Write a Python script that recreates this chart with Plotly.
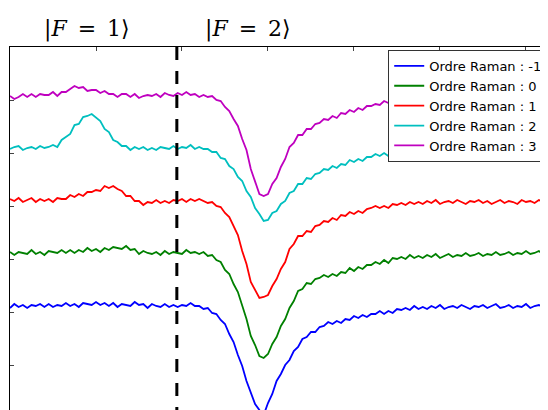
import numpy as np
import plotly.graph_objects as go

# spectres Raman (u.a.), décalés verticalement par ordre
detuning = np.round(np.arange(126) * 0.05, 2)

ordre_m1 = [11.0, 11.4, 11.1, 11.3, 11.0, 11.3, 11.2, 11.4, 11.1, 11.4,
            11.1, 11.3, 11.2, 11.5, 11.2, 11.4, 11.1, 11.5, 11.4, 11.3,
            11.6, 11.3, 11.5, 11.2, 11.5, 11.1, 11.4, 11.3, 11.2, 11.6,
            11.3, 11.4, 11.0, 11.4, 11.2, 11.1, 11.4, 11.1, 11.3, 11.1,
            11.3, 11.2, 11.5, 11.2, 11.2, 10.9, 11.0, 10.5, 10.4, 9.8,
            9.4, 8.4, 7.6, 6.3, 5.2, 3.7, 2.6, 1.4, 0.8, 0.3,
            1.5, 2.4, 3.7, 4.4, 5.3, 5.8, 6.7, 7.1, 7.9, 8.1,
            8.6, 8.6, 9.1, 9.2, 9.6, 9.4, 9.7, 9.5, 9.9, 9.8,
            10.2, 10.0, 10.3, 10.1, 10.4, 10.4, 10.7, 10.4, 10.7, 10.5,
            10.9, 10.8, 11.0, 10.8, 11.2, 10.9, 11.1,
            10.9, 11.2, 11.0, 11.3, 10.9, 11.1, 11.2, 11.0, 11.3, 11.1,
            10.9, 11.2, 11.1, 11.3, 11.0, 11.2, 11.4, 11.0, 11.1, 11.3,
            11.0, 11.2, 11.1, 11.4, 11.0, 11.2, 11.3, 11.1, 11.2]

ordre_0 = [16.6, 16.3, 16.6, 16.5, 16.4, 16.8, 16.4, 16.6, 16.3, 16.7,
           16.6, 16.5, 16.8, 16.5, 16.8, 16.5, 16.8, 16.6, 17.0, 16.7,
           16.9, 16.6, 17.0, 16.8, 17.1, 17.0, 16.9, 17.2, 16.8, 16.9,
           16.4, 16.7, 16.5, 16.4, 16.6, 16.3, 16.7, 16.4, 16.6, 16.5,
           16.4, 16.8, 16.5, 16.6, 16.4, 16.6, 16.2, 16.3, 15.8, 15.6,
           14.8, 14.4, 13.4, 12.6, 11.2, 9.9, 8.2, 7.3, 6.2, 6.0,
           6.4, 7.4, 8.1, 9.2, 9.9, 11.0, 11.7, 12.7, 12.9, 13.5,
           13.4, 13.9, 14.0, 14.3, 14.1, 14.4, 14.2, 14.6, 14.5, 15.0,
           14.7, 15.1, 14.9, 15.3, 15.3, 15.6, 15.4, 15.8, 15.5, 16.0,
           15.9, 16.1, 15.9, 16.3, 16.0, 16.2, 16.0,
           16.3, 16.1, 16.4, 16.0, 16.2, 16.4, 16.1, 16.3, 16.2, 16.5,
           16.2, 16.3, 16.5, 16.2, 16.4, 16.3, 16.6, 16.3, 16.4, 16.6,
           16.3, 16.5, 16.4, 16.7, 16.4, 16.5, 16.7, 16.4, 16.6]

ordre_1 = [21.9, 21.7, 22.0, 21.6, 21.8, 22.0, 21.6, 21.9, 21.7, 21.9,
           21.6, 22.0, 21.9, 21.9, 22.3, 22.1, 22.4, 22.2, 22.6, 22.6,
           22.8, 22.7, 23.2, 23.0, 23.2, 22.9, 22.7, 22.2, 22.2, 21.7,
           21.7, 21.3, 21.6, 21.5, 21.8, 21.5, 21.7, 21.5, 21.8, 21.7,
           21.9, 21.6, 21.9, 21.7, 21.9, 21.7, 21.5, 21.6, 21.2, 21.1,
           20.5, 20.1, 19.2, 18.3, 16.7, 15.4, 13.6, 12.8, 12.0, 12.1,
           12.3, 13.2, 13.9, 14.9, 15.6, 16.9, 17.4, 18.2, 18.2, 18.7,
           18.6, 19.2, 19.3, 19.7, 19.6, 20.0, 19.8, 20.3, 20.2, 20.6,
           20.4, 20.7, 20.5, 20.9, 21.0, 21.2, 21.0, 21.2, 21.0, 21.4,
           21.3, 21.5, 21.3, 21.6, 21.4, 21.6,
           21.4, 21.7, 21.5, 21.8, 21.4, 21.6, 21.7, 21.5, 21.8, 21.6,
           21.4, 21.7, 21.6, 21.8, 21.5, 21.7, 21.4, 21.6, 21.8, 21.5,
           21.7, 21.6, 21.4, 21.8, 21.6, 21.7, 21.5, 21.8, 21.6, 21.7]

ordre_2 = [26.9, 27.1, 27.2, 26.8, 27.0, 27.1, 26.9, 27.2, 27.0, 27.1,
           27.3, 27.1, 27.8, 28.1, 28.4, 29.3, 29.4, 30.1, 30.2, 30.4,
           30.0, 29.7, 28.9, 28.6, 27.8, 27.6, 27.2, 27.2, 26.8, 27.1,
           26.9, 27.1, 26.8, 27.0, 26.8, 27.1, 27.0, 26.9, 27.2, 26.9,
           27.1, 27.0, 27.3, 26.9, 27.1, 26.9, 26.9, 26.6, 26.6, 26.0,
           25.9, 25.2, 24.9, 24.1, 23.7, 22.7, 22.1, 21.0, 20.4, 19.7,
           19.8, 20.5, 20.7, 21.4, 21.7, 22.5, 22.7, 23.4, 23.4, 24.0,
           23.9, 24.4, 24.5, 24.9, 24.8, 25.2, 25.0, 25.4, 25.3, 25.8,
           25.6, 25.9, 25.7, 26.1, 26.1, 26.4, 26.2, 26.5, 26.2, 26.6,
           26.6, 26.7, 26.5, 26.9, 26.6, 26.8, 26.6,
           26.9, 26.7, 27.0, 26.6, 26.8, 27.0, 26.7, 26.9, 26.6, 27.0,
           26.8, 26.7, 27.0, 26.8, 26.6, 26.9, 27.0, 26.7, 26.8, 27.0,
           26.6, 26.9, 26.8, 27.0, 26.7, 26.9, 26.6, 26.8, 26.9]

ordre_3 = [32.2, 31.9, 32.1, 32.4, 32.1, 32.4, 32.1, 32.4, 32.3, 32.3,
           32.6, 32.2, 32.6, 32.6, 32.9, 33.2, 33.0, 33.1, 32.7, 32.8,
           32.8, 32.5, 32.7, 32.4, 32.4, 32.1, 32.4, 32.4, 32.1, 32.4,
           32.0, 32.2, 32.3, 32.2, 32.4, 32.1, 32.5, 32.3, 32.2, 32.5,
           32.3, 32.6, 32.3, 32.4, 32.1, 32.3, 32.1, 32.2, 31.8, 31.7,
           31.1, 30.7, 29.9, 29.2, 27.9, 26.8, 24.9, 23.6, 22.4, 22.2,
           22.4, 23.4, 24.0, 25.1, 25.9, 27.1, 27.5, 28.3, 28.3, 28.9,
           28.9, 29.4, 29.5, 29.9, 29.8, 30.2, 30.0, 30.5, 30.4, 30.8,
           30.6, 31.0, 30.8, 31.2, 31.2, 31.4, 31.3, 31.7, 31.5, 31.8,
           31.6, 31.9, 31.8, 32.1, 31.9, 32.1, 31.9, 32.3, 32.0, 32.2,
           32.1, 32.4, 32.2, 32.3, 32.2, 32.5, 32.3, 32.4, 32.3, 32.6,
           32.3, 32.5, 32.4, 32.6, 32.4, 32.6, 32.4, 32.7, 32.5, 32.6,
           32.5, 32.7, 32.5, 32.7, 32.6, 32.7]

ordres = ["-1", "0", "1", "2", "3"]
spectres = [ordre_m1, ordre_0, ordre_1, ordre_2, ordre_3]
couleurs = ["#0000ff", "#008000", "#ff0000", "#00bfbf", "#bf00bf"]

# limite entre les deux niveaux hyperfins
separation = 1.94
niveaux = ["|<i>F</i>\u2002=\u20021\u27e9", "|<i>F</i>\u2002=\u20022\u27e9"]
niveaux_x = [0.9, 2.77]

for s in spectres:
    assert len(s) == len(detuning)

fig = go.Figure()

for ordre, y, c in zip(ordres, spectres, couleurs):
    fig.add_trace(go.Scatter(x=detuning, y=y, mode="lines",
                             name="Ordre Raman : " + ordre,
                             line=dict(color=c, width=1.8)))

fig.add_shape(type="line", xref="x", yref="paper",
              x0=separation, x1=separation, y0=1, y1=0,
              line=dict(color="black", width=3, dash="13px,11px"))

for txt, xx in zip(niveaux, niveaux_x):
    fig.add_annotation(x=xx, y=1.05, xref="x", yref="paper", text=txt,
                       showarrow=False, yanchor="middle",
                       font=dict(family="DejaVu Serif", size=22, color="black"))

# la page html a une marge de 8px autour du graphique
fig.update_layout(
    width=540, height=402, autosize=False,
    margin=dict(l=2, r=0, t=39, b=0),
    plot_bgcolor="white", paper_bgcolor="white",
    showlegend=True,
    legend=dict(x=0.703, y=0.992, xanchor="left", yanchor="top",
                bgcolor="white", bordercolor="#333", borderwidth=1,
                font=dict(family="DejaVu Sans", size=13, color="black"),
                tracegroupgap=0),
)

fig.update_xaxes(range=[0, 6.256], side="top", showgrid=False, zeroline=False,
                 showline=True, linecolor="black", linewidth=1,
                 ticks="inside", ticklen=4, tickcolor="#444",
                 tick0=0, dtick=1, showticklabels=False)
fig.update_yaxes(range=[0.8, 37.1], showgrid=False, zeroline=False,
                 showline=True, linecolor="black", linewidth=1,
                 ticks="inside", ticklen=4, tickcolor="#444",
                 tick0=0, dtick=5.3, showticklabels=False)

fig.write_html("out.html")
